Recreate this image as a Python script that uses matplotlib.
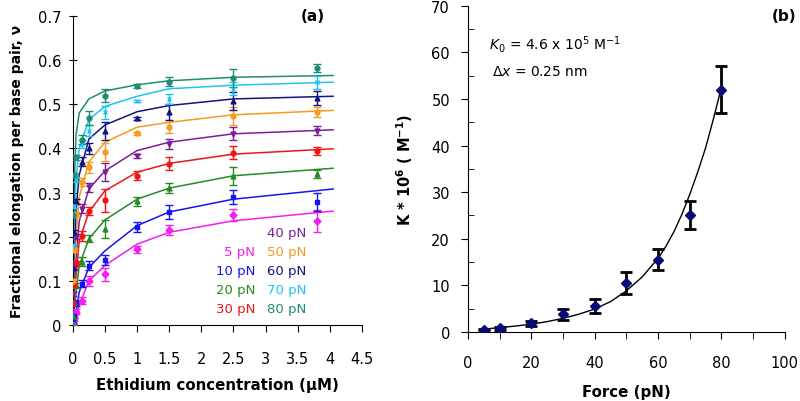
import matplotlib
matplotlib.use("Agg")
import matplotlib.pyplot as plt

plt.rcParams['font.family'] = ['DejaVu Sans']
plt.rcParams['mathtext.fontset'] = 'dejavusans'

# ---- panel (a) data ----
forces = [5, 10, 20, 30, 40, 50, 60, 70, 80]
colors = ['#F01EF0', '#1414F0', '#238C23', '#F01414', '#7D1E96',
          '#F79A1E', '#14147D', '#1EC3F0', '#1E8C73']
markers = ['D', 's', '^', 'o', 'v', 'o', '^', 'x', 'o']

conc = [0, 0.01, 0.025, 0.05, 0.15, 0.25, 0.5, 1.0, 1.5, 2.5, 3.8]
v_5 = [0.0, 0.008, 0.015, 0.03, 0.055, 0.10, 0.115, 0.172, 0.215, 0.249, 0.236]
v_10 = [0.0, 0.008, 0.02, 0.05, 0.093, 0.134, 0.147, 0.222, 0.256, 0.29, 0.278]
v_20 = [0.0, 0.02, 0.05, 0.09, 0.143, 0.195, 0.217, 0.28, 0.31, 0.338, 0.342]
v_30 = [0.0, 0.05, 0.09, 0.14, 0.202, 0.258, 0.282, 0.338, 0.365, 0.39, 0.394]
v_40 = [0.0, 0.07, 0.13, 0.2, 0.263, 0.312, 0.346, 0.383, 0.41, 0.433, 0.44]
v_50 = [0.0, 0.1, 0.17, 0.25, 0.324, 0.357, 0.392, 0.434, 0.449, 0.474, 0.482]
v_60 = [0.0, 0.13, 0.21, 0.28, 0.37, 0.40, 0.44, 0.468, 0.482, 0.508, 0.514]
v_70 = [0.0, 0.18, 0.27, 0.33, 0.41, 0.44, 0.482, 0.507, 0.512, 0.535, 0.55]
v_80 = [0.0, 0.25, 0.34, 0.38, 0.42, 0.469, 0.519, 0.541, 0.551, 0.56, 0.582]

e_5 = [0.003, 0.004, 0.005, 0.006, 0.008, 0.012, 0.015, 0.008, 0.012, 0.013, 0.025]
e_10 = [0.003, 0.004, 0.005, 0.006, 0.008, 0.01, 0.012, 0.012, 0.015, 0.015, 0.02]
e_20 = [0.003, 0.004, 0.005, 0.006, 0.01, 0.008, 0.02, 0.01, 0.012, 0.02, 0.01]
e_30 = [0.003, 0.004, 0.005, 0.006, 0.012, 0.01, 0.025, 0.01, 0.015, 0.015, 0.008]
e_40 = [0.003, 0.004, 0.005, 0.006, 0.01, 0.01, 0.02, 0.004, 0.012, 0.015, 0.01]
e_50 = [0.003, 0.004, 0.005, 0.006, 0.01, 0.012, 0.02, 0.004, 0.015, 0.02, 0.012]
e_60 = [0.003, 0.004, 0.005, 0.006, 0.01, 0.012, 0.02, 0.003, 0.018, 0.02, 0.015]
e_70 = [0.003, 0.004, 0.005, 0.006, 0.01, 0.012, 0.015, 0.003, 0.012, 0.015, 0.015]
e_80 = [0.003, 0.004, 0.005, 0.006, 0.01, 0.015, 0.015, 0.005, 0.01, 0.02, 0.01]

# fitted curves
conc_fit = [0, 0.025, 0.05, 0.1, 0.25, 0.5, 1.0, 1.5, 2.5, 4.05]
fit_5 = [0, 0.01, 0.02, 0.045, 0.10, 0.135, 0.183, 0.21, 0.236, 0.258]
fit_10 = [0, 0.015, 0.03, 0.075, 0.13, 0.168, 0.225, 0.256, 0.285, 0.308]
fit_20 = [0, 0.04, 0.07, 0.135, 0.195, 0.238, 0.285, 0.31, 0.338, 0.355]
fit_30 = [0, 0.07, 0.11, 0.19, 0.256, 0.304, 0.346, 0.366, 0.387, 0.399]
fit_40 = [0, 0.10, 0.15, 0.235, 0.308, 0.349, 0.395, 0.414, 0.433, 0.442]
fit_50 = [0, 0.14, 0.20, 0.29, 0.369, 0.414, 0.448, 0.459, 0.476, 0.486]
fit_60 = [0, 0.18, 0.26, 0.34, 0.421, 0.453, 0.483, 0.497, 0.512, 0.518]
fit_70 = [0, 0.25, 0.33, 0.40, 0.465, 0.495, 0.518, 0.535, 0.543, 0.550]
fit_80 = [0, 0.33, 0.43, 0.48, 0.512, 0.53, 0.544, 0.553, 0.561, 0.565]

vals = [v_5, v_10, v_20, v_30, v_40, v_50, v_60, v_70, v_80]
errs = [e_5, e_10, e_20, e_30, e_40, e_50, e_60, e_70, e_80]
fits = [fit_5, fit_10, fit_20, fit_30, fit_40, fit_50, fit_60, fit_70, fit_80]

# ---- panel (b) data ----
force_b = [5, 10, 20, 30, 40, 50, 60, 70, 80]
K_b = [0.5, 0.8, 1.8, 3.8, 5.5, 10.5, 15.5, 25, 52]
K_err = [0.2, 0.3, 0.5, 1.2, 1.5, 2.3, 2.3, 3.0, 5.0]
force_fit = [5, 10, 15, 20, 25, 30, 35, 40, 45, 50, 55, 60, 62.5, 65, 67.5,
             70, 72.5, 75, 77.5, 80]
K_fit = [0.6, 0.9, 1.25, 1.65, 2.2, 2.9, 3.8, 4.9, 6.5, 8.8, 11.8, 15.8, 18.4,
         21.5, 25.2, 29.5, 34.3, 39.5, 45.8, 52.5]

fig = plt.figure(figsize=(8, 4.02), dpi=100)
axa = fig.add_axes([0.091, 0.189, 0.3615, 0.769])
axb = fig.add_axes([0.585, 0.172, 0.396, 0.811])

for i in range(len(forces)):
    axa.plot(conc_fit, fits[i], color=colors[i], lw=1.1, zorder=2)
    axa.errorbar(conc, vals[i], yerr=errs[i], fmt=markers[i], color=colors[i],
                 ms=3.5, mew=1, elinewidth=1, capsize=3, capthick=1, zorder=3)

axa.set_xlim(0, 4.5)
axa.set_ylim(0, 0.7)
axa.set_xticks([0, 0.5, 1, 1.5, 2, 2.5, 3, 3.5, 4, 4.5])
axa.set_xticklabels(['0', '0.5', '1', '1.5', '2', '2.5', '3', '3.5', '4', '4.5'])
axa.set_yticks([0, 0.1, 0.2, 0.3, 0.4, 0.5, 0.6, 0.7])
axa.set_yticklabels(['0', '0.1', '0.2', '0.3', '0.4', '0.5', '0.6', '0.7'])
axa.tick_params(axis='x', direction='out', length=5, pad=13.5, labelsize=10.5)
axa.tick_params(axis='y', direction='inout', length=6, pad=5, labelsize=10.5)
axa.spines['top'].set_visible(False)
axa.spines['right'].set_visible(False)
axa.set_xlabel('Ethidium concentration (µM)', fontsize=10.8, fontweight='bold', labelpad=8)
axa.set_ylabel('Fractional elongation per base pair, ν', fontsize=10,
               fontweight='bold', labelpad=10)
axa.text(0.83, 1.0, '(a)', transform=axa.transAxes, fontsize=11,
         fontweight='bold', ha='center', va='center')

# coloured legend labels
rows_y = [0.30, 0.237, 0.176, 0.116, 0.054]
axa.text(0.672, rows_y[0], '40 pN', color=colors[4], fontsize=9.5,
         transform=axa.transAxes, va='center')
for r, idx in enumerate([0, 1, 2, 3]):
    axa.text(0.63, rows_y[r + 1], f'{forces[idx]} pN', color=colors[idx], fontsize=9.5,
             transform=axa.transAxes, ha='right', va='center')
for r, idx in enumerate([5, 6, 7, 8]):
    axa.text(0.672, rows_y[r + 1], f'{forces[idx]} pN', color=colors[idx], fontsize=9.5,
             transform=axa.transAxes, ha='left', va='center')

# ---- panel (b) ----
axb.plot(force_fit, K_fit, color='black', lw=1.0, zorder=2)
axb.errorbar(force_b, K_b, yerr=K_err, fmt='D', color='#0A0A78', ms=5,
             ecolor='black', elinewidth=2, capsize=4, capthick=2, zorder=3)
axb.set_xlim(0, 100)
axb.set_ylim(0, 70)
axb.set_xticks(range(0, 101, 20))
axb.set_xticks(range(10, 100, 20), minor=True)
axb.set_yticks(range(0, 71, 10))
axb.set_yticks(range(5, 70, 10), minor=True)
axb.tick_params(axis='x', which='both', direction='out', length=5, pad=12, labelsize=10.5)
axb.tick_params(axis='y', which='major', direction='out', length=5, pad=8, labelsize=10.5)
axb.tick_params(axis='y', which='minor', direction='in', length=4)
axb.spines['top'].set_visible(False)
axb.spines['right'].set_visible(False)
axb.set_xlabel('Force (pN)', fontsize=10.8, fontweight='bold', labelpad=10)
axb.set_ylabel('K * 10$^{\\mathbf{6}}$ ( M$^{\\mathbf{-1}}$)', fontsize=10.5,
               fontweight='bold', labelpad=12)
axb.text(1.038, 0.969, '(b)', transform=axb.transAxes, fontsize=11,
         fontweight='bold', ha='right', va='center')
axb.text(0.066, 0.883, r'$K_0$ = 4.6 x 10$^5$ M$^{-1}$', transform=axb.transAxes,
         fontsize=10, va='center')
axb.text(0.076, 0.80, r'$\Delta x$ = 0.25 nm', transform=axb.transAxes,
         fontsize=10, va='center')

fig.savefig('out.png', dpi=100)
